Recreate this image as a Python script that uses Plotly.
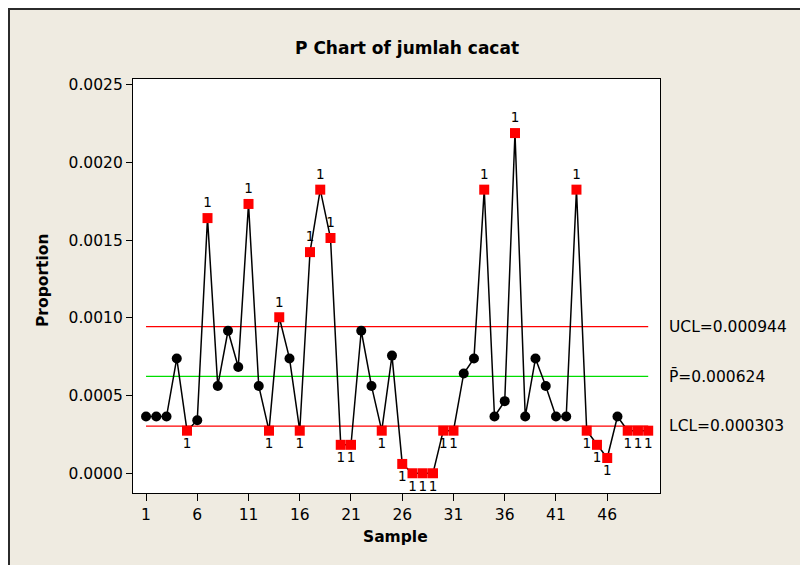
import plotly.graph_objects as go

samples = list(range(1, 51))
proportion = [0.000365, 0.000365, 0.000365, 0.000739, 0.000274, 0.000341, 0.001642, 0.000562,
              0.000917, 0.000684, 0.001733, 0.000562, 0.000274, 0.001004, 0.000739, 0.000274,
              0.001423, 0.001825, 0.001514, 0.000183, 0.000183, 0.000917, 0.000562, 0.000274,
              0.000757, 0.000060, 0.0, 0.0, 0.0, 0.000274, 0.000274, 0.000642, 0.000739,
              0.001825, 0.000365, 0.000464, 0.002189, 0.000365, 0.000739, 0.000562, 0.000365,
              0.000365, 0.001825, 0.000274, 0.000183, 0.000098, 0.000365, 0.000274, 0.000274,
              0.000274]
UCL = 0.000944
CL = 0.000624
LCL = 0.000303
ucl_label = "UCL=0.000944"
cl_label = "P\u0304=0.000624"
lcl_label = "LCL=0.000303"
x_ticks = [1, 6, 11, 16, 21, 26, 31, 36, 41, 46]
y_ticks = [0.0, 0.0005, 0.0010, 0.0015, 0.0020, 0.0025]

OFF = 8  # page body margin
W, H = 800, 557
L, R, T, B = 125, 148, 71, 72
PW, PH = W - L - R, H - T - B


def xp(px):  # page pixel -> paper
    return (px - OFF - L) / PW


def yp(py):
    return (H - B - (py - OFF)) / PH


FONT = "DejaVu Sans"
BEIGE = "#EFEBE1"

hi_x = [s for s, p in zip(samples, proportion) if p > UCL]
hi_y = [p for p in proportion if p > UCL]
lo_x = [s for s, p in zip(samples, proportion) if p < LCL]
lo_y = [p for p in proportion if p < LCL]
ok_x = [s for s, p in zip(samples, proportion) if LCL <= p <= UCL]
ok_y = [p for p in proportion if LCL <= p <= UCL]

fig = go.Figure()
for val, col in [(UCL, "#FF0000"), (CL, "#00DD00"), (LCL, "#FF0000")]:
    fig.add_trace(go.Scatter(x=[samples[0], samples[-1]], y=[val, val], mode="lines",
                             line=dict(color=col, width=1.3), hoverinfo="skip"))
fig.add_trace(go.Scatter(x=samples, y=proportion, mode="lines",
                         line=dict(color="black", width=1.5)))
fig.add_trace(go.Scatter(x=ok_x, y=ok_y, mode="markers",
                         marker=dict(symbol="circle", size=10, color="black")))
fig.add_trace(go.Scatter(x=hi_x, y=hi_y, mode="markers+text", text=["1"] * len(hi_x),
                         textposition="top center",
                         textfont=dict(family=FONT, size=13.5, color="black"),
                         marker=dict(symbol="square", size=10, color="#FF0000")))
fig.add_trace(go.Scatter(x=lo_x, y=lo_y, mode="markers+text", text=["1"] * len(lo_x),
                         textposition="bottom center",
                         textfont=dict(family=FONT, size=13.5, color="black"),
                         marker=dict(symbol="square", size=10, color="#FF0000")))

annotations = [
    dict(text="P Chart of jumlah cacat", xref="paper", yref="paper", x=xp(406.5), y=yp(48),
         xanchor="center", yanchor="middle", showarrow=False,
         font=dict(family=FONT, size=17, color="black", weight="bold")),
    dict(text="Proportion", xref="paper", yref="paper", x=xp(43), y=yp(281), textangle=-90,
         xanchor="center", yanchor="middle", showarrow=False,
         font=dict(family=FONT, size=15.5, color="black", weight="bold")),
    dict(text="Sample", xref="paper", yref="paper", x=xp(395), y=yp(537),
         xanchor="center", yanchor="middle", showarrow=False,
         font=dict(family=FONT, size=15.5, color="black", weight="bold")),
]
for val, lab in [(UCL, ucl_label), (CL, cl_label), (LCL, lcl_label)]:
    annotations.append(dict(text=lab, xref="paper", yref="y", x=xp(667), y=val,
                            xanchor="left", yanchor="middle", showarrow=False,
                            font=dict(family=FONT, size=15.5, color="black")))

shapes = [
    dict(type="line", xref="paper", yref="paper", x0=xp(8), x1=xp(W + 20), y0=yp(9), y1=yp(9),
         line=dict(color="#2b2b2b", width=2)),
    dict(type="line", xref="paper", yref="paper", x0=xp(9), x1=xp(9), y0=yp(9), y1=yp(H + 20),
         line=dict(color="#2b2b2b", width=2)),
]

fig.update_layout(
    width=W, height=H, margin=dict(l=L, r=R, t=T, b=B, pad=0),
    paper_bgcolor=BEIGE, plot_bgcolor="white", showlegend=False,
    annotations=annotations, shapes=shapes,
    font=dict(family=FONT, size=15.5, color="black"),
)
fig.update_xaxes(range=[-0.27, 51.15], tickvals=x_ticks, ticktext=[str(v) for v in x_ticks],
                 ticks="outside", ticklen=7, tickwidth=1.2, tickcolor="black",
                 showline=True, linecolor="black", linewidth=1.2, mirror=True,
                 showgrid=False, zeroline=False,
                 tickfont=dict(family=FONT, size=15.5, color="black"))
fig.update_yaxes(range=[-0.000127, 0.002537], tickvals=y_ticks, tickformat=".4f",
                 ticks="outside", ticklen=6, tickwidth=1.2, tickcolor="black",
                 showline=True, linecolor="black", linewidth=1.2, mirror=True,
                 showgrid=False, zeroline=False,
                 tickfont=dict(family=FONT, size=15.5, color="black"))

fig.write_html("out.html")
